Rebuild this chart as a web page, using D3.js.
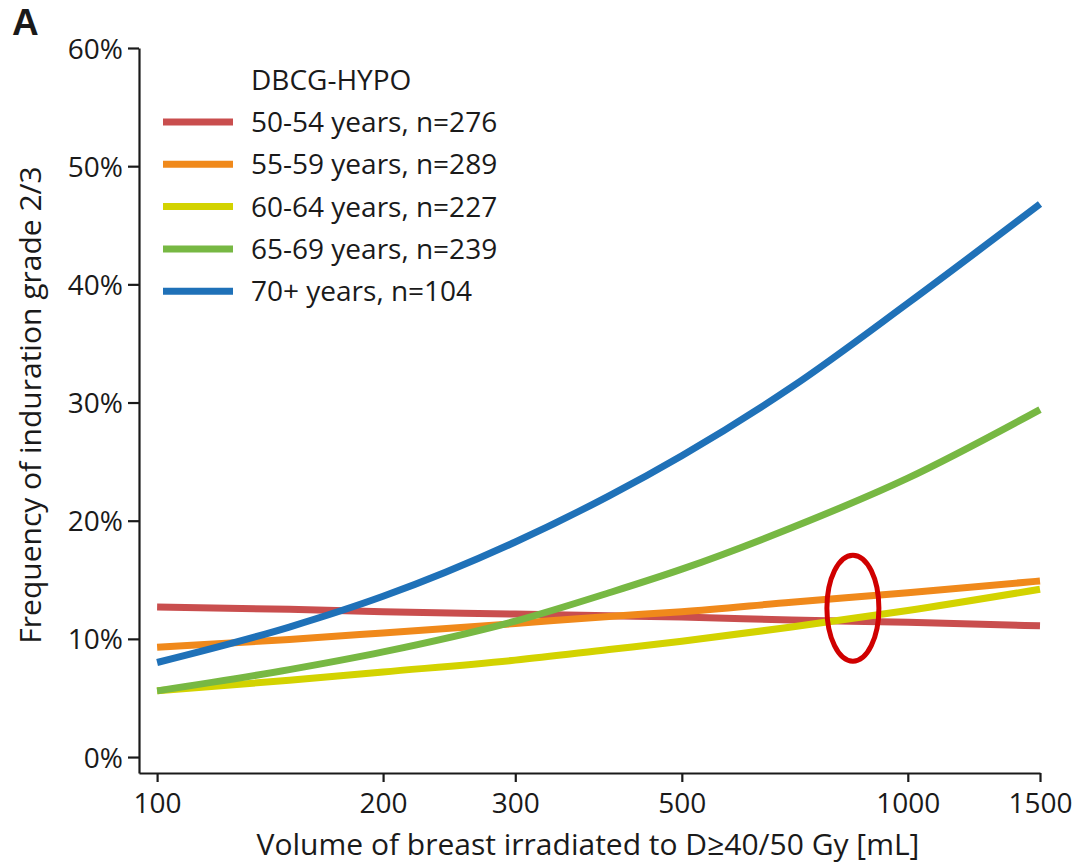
<!DOCTYPE html>
<html>
<head>
<meta charset="utf-8">
<script src="https://cdn.jsdelivr.net/npm/d3@7"></script>
<style>
  body { margin: 0; background: #fff; }
  text { font-family: "Open Sans", sans-serif; fill: #1a1a1a; }
</style>
</head>
<body>
<div id="chart"></div>
<script>
const volumes = [100, 150, 200, 300, 400, 500, 700, 1000, 1500];

const seriesNames = ["50-54 years, n=276", "55-59 years, n=289", "60-64 years, n=227", "65-69 years, n=239", "70+ years, n=104"];
const seriesColors = ["#c94e4e", "#f0891b", "#d3d300", "#77b843", "#1f71b8"];

// frequency of induration grade 2/3, in %
const age50 = [12.7, 12.5, 12.3, 12.1, 11.95, 11.85, 11.6, 11.4, 11.1];
const age55 = [9.3, 9.95, 10.5, 11.3, 11.9, 12.3, 13.1, 13.9, 14.9];
const age60 = [5.6, 6.5, 7.2, 8.2, 9.1, 9.8, 11.0, 12.4, 14.2];
const age65 = [5.6, 7.4, 8.9, 11.5, 13.9, 15.9, 19.4, 23.6, 29.4];
const age70 = [8.0, 11.0, 13.6, 18.2, 22.1, 25.5, 31.3, 38.4, 46.8];
const allSeries = [age50, age55, age60, age65, age70];

const xTicks = [100, 200, 300, 500, 1000, 1500];
const yTicks = [0, 10, 20, 30, 40, 50, 60];

const width = 1081, height = 863;

const svg = d3.select("#chart")
    .append("svg")
    .attr("width", width)
    .attr("height", height);

const x = d3.scaleLog()
    .domain([94.6, 1500])
    .range([139, 1040]);

const y = d3.scaleLinear()
    .domain([-1.35, 60])
    .range([773, 48]);

// axes
const xAxis = svg.append("g")
    .attr("transform", "translate(0,773)")
    .call(d3.axisBottom(x).tickValues(xTicks).tickFormat(d3.format("d")).tickSize(9).tickSizeOuter(0).tickPadding(6));

const yAxis = svg.append("g")
    .attr("transform", "translate(139,0)")
    .call(d3.axisLeft(y).tickValues(yTicks).tickFormat(d => d + "%").tickSize(11).tickSizeOuter(0).tickPadding(5));

[xAxis, yAxis].forEach(g => {
    g.select(".domain").attr("stroke", "#1a1a1a").attr("stroke-width", 2.2);
    g.selectAll(".tick line").attr("stroke", "#1a1a1a").attr("stroke-width", 2.2);
    g.selectAll(".tick text").attr("font-size", 28).attr("fill", "#1a1a1a")
        .style("font-family", "'Open Sans', sans-serif");
});
xAxis.selectAll(".tick text").attr("dy", "0.88em");
yAxis.selectAll(".tick text").attr("dy", "0.36em");

// curves
const line = d3.line()
    .x((d, i) => x(volumes[i]))
    .y(d => y(d))
    .curve(d3.curveMonotoneX);

svg.selectAll(".curve")
    .data(allSeries)
    .enter().append("path")
    .attr("class", "curve")
    .attr("d", line)
    .attr("fill", "none")
    .attr("stroke", (d, i) => seriesColors[i])
    .attr("stroke-width", 7);

// highlight ellipse where curves cross
svg.append("ellipse")
    .attr("cx", x(845))
    .attr("cy", y(12.6))
    .attr("rx", 26)
    .attr("ry", 53)
    .attr("fill", "none")
    .attr("stroke", "#d00000")
    .attr("stroke-width", 5);

// legend
const legend = svg.append("g");
legend.append("text")
    .attr("x", 251)
    .attr("y", 80)
    .attr("dy", "0.36em")
    .attr("font-size", 28)
    .text("DBCG-HYPO");

const rows = legend.selectAll(".row")
    .data(seriesNames)
    .enter().append("g")
    .attr("transform", (d, i) => `translate(0,${122 + i * 42.3})`);

rows.append("line")
    .attr("x1", 163).attr("x2", 233)
    .attr("stroke", (d, i) => seriesColors[i])
    .attr("stroke-width", 7);

rows.append("text")
    .attr("x", 251)
    .attr("dy", "0.36em")
    .attr("font-size", 28)
    .text(d => d);

// axis titles
svg.append("text")
    .attr("x", 588)
    .attr("y", 844)
    .attr("dy", "0.36em")
    .attr("text-anchor", "middle")
    .attr("font-size", 30)
    .text("Volume of breast irradiated to D≥40/50 Gy [mL]");

svg.append("text")
    .attr("transform", "translate(30,405) rotate(-90)")
    .attr("dy", "0.36em")
    .attr("text-anchor", "middle")
    .attr("font-size", 30)
    .text("Frequency of induration grade 2/3");

svg.append("text")
    .attr("x", 12)
    .attr("y", 22)
    .attr("dy", "0.36em")
    .attr("font-size", 37)
    .attr("font-weight", "bold")
    .style("font-family", "'Liberation Sans', Arial, sans-serif")
    .text("A");
</script>
</body>
</html>
